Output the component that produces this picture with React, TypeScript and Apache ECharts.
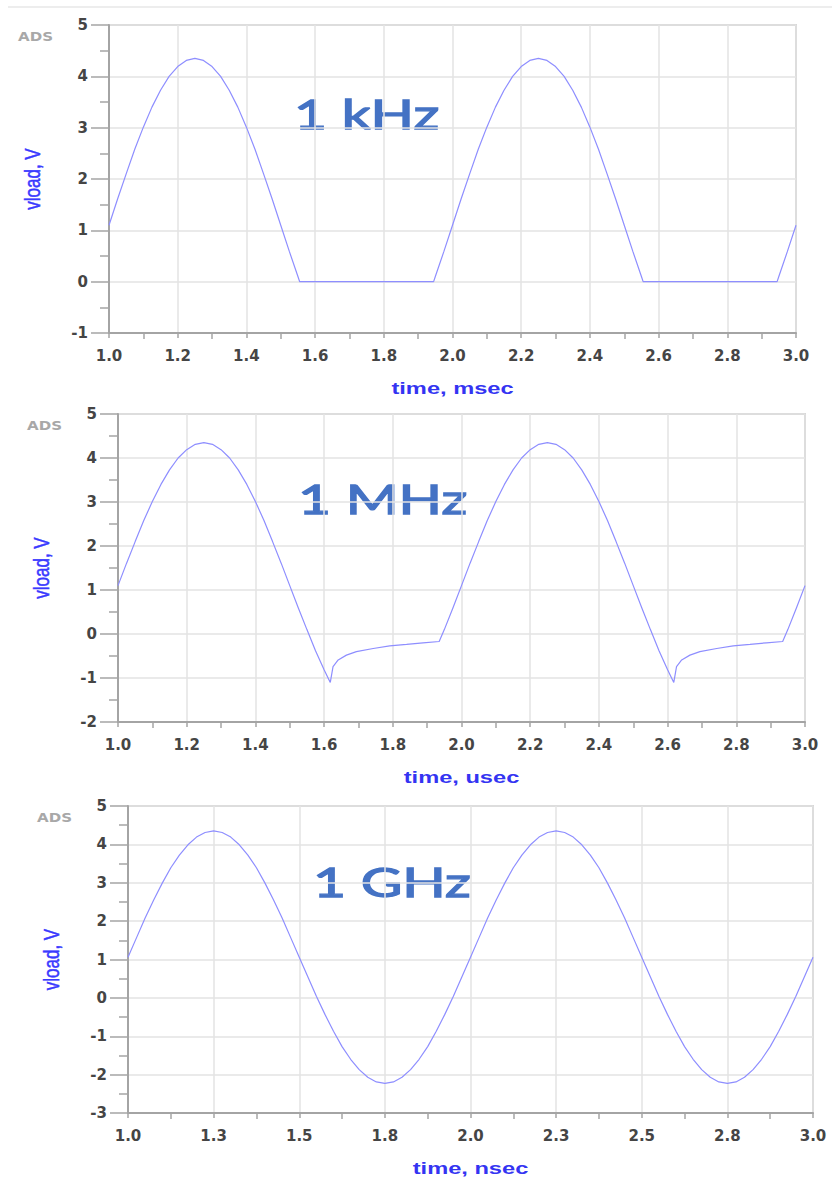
import { useEffect, useRef } from 'react';
import * as echarts from 'echarts';

// ---- data ----
const khzTime = [1.0, 1.025, 1.05, 1.075, 1.1, 1.125, 1.15, 1.175, 1.2, 1.225, 1.25, 1.275, 1.3, 1.325, 1.35, 1.375, 1.4, 1.425, 1.45, 1.475, 1.5, 1.525, 1.55, 1.555, 1.945, 1.95, 1.975, 2.0, 2.025, 2.05, 2.075, 2.1, 2.125, 2.15, 2.175, 2.2, 2.225, 2.25, 2.275, 2.3, 2.325, 2.35, 2.375, 2.4, 2.425, 2.45, 2.475, 2.5, 2.525, 2.55, 2.555, 2.945, 2.95, 2.975, 3.0];
const khzVolt = [1.10, 1.61, 2.10, 2.58, 3.01, 3.40, 3.73, 4.00, 4.19, 4.31, 4.35, 4.31, 4.19, 4.00, 3.73, 3.40, 3.01, 2.58, 2.10, 1.61, 1.10, 0.59, 0.10, 0, 0, 0.10, 0.59, 1.10, 1.61, 2.10, 2.58, 3.01, 3.40, 3.73, 4.00, 4.19, 4.31, 4.35, 4.31, 4.19, 4.00, 3.73, 3.40, 3.01, 2.58, 2.10, 1.61, 1.10, 0.59, 0.10, 0, 0, 0.10, 0.59, 1.10];

const mhzTime = [1.0, 1.025, 1.05, 1.075, 1.1, 1.125, 1.15, 1.175, 1.2, 1.225, 1.25, 1.275, 1.3, 1.325, 1.35, 1.375, 1.4, 1.425, 1.45, 1.475, 1.5, 1.525, 1.55, 1.575, 1.6, 1.618, 1.626, 1.641, 1.665, 1.694, 1.743, 1.791, 1.84, 1.888, 1.935, 1.95, 1.975, 2.0, 2.025, 2.05, 2.075, 2.1, 2.125, 2.15, 2.175, 2.2, 2.225, 2.25, 2.275, 2.3, 2.325, 2.35, 2.375, 2.4, 2.425, 2.45, 2.475, 2.5, 2.525, 2.55, 2.575, 2.6, 2.618, 2.626, 2.641, 2.665, 2.694, 2.743, 2.791, 2.84, 2.888, 2.935, 2.95, 2.975, 3.0];
const mhzVolt = [1.10, 1.61, 2.10, 2.58, 3.01, 3.40, 3.73, 4.00, 4.19, 4.31, 4.35, 4.31, 4.19, 4.00, 3.73, 3.40, 3.01, 2.58, 2.10, 1.61, 1.10, 0.59, 0.10, -0.38, -0.81, -1.10, -0.74, -0.59, -0.48, -0.40, -0.33, -0.27, -0.235, -0.20, -0.17, 0.10, 0.59, 1.10, 1.61, 2.10, 2.58, 3.01, 3.40, 3.73, 4.00, 4.19, 4.31, 4.35, 4.31, 4.19, 4.00, 3.73, 3.40, 3.01, 2.58, 2.10, 1.61, 1.10, 0.59, 0.10, -0.38, -0.81, -1.10, -0.74, -0.59, -0.48, -0.40, -0.33, -0.27, -0.235, -0.20, -0.17, 0.10, 0.59, 1.10];

const ghzTime = [1.0, 1.025, 1.05, 1.075, 1.1, 1.125, 1.15, 1.175, 1.2, 1.225, 1.25, 1.275, 1.3, 1.325, 1.35, 1.375, 1.4, 1.425, 1.45, 1.475, 1.5, 1.525, 1.55, 1.575, 1.6, 1.625, 1.65, 1.675, 1.7, 1.725, 1.75, 1.775, 1.8, 1.825, 1.85, 1.875, 1.9, 1.925, 1.95, 1.975, 2.0, 2.025, 2.05, 2.075, 2.1, 2.125, 2.15, 2.175, 2.2, 2.225, 2.25, 2.275, 2.3, 2.325, 2.35, 2.375, 2.4, 2.425, 2.45, 2.475, 2.5, 2.525, 2.55, 2.575, 2.6, 2.625, 2.65, 2.675, 2.7, 2.725, 2.75, 2.775, 2.8, 2.825, 2.85, 2.875, 2.9, 2.925, 2.95, 2.975, 3.0];
const ghzVolt = [1.06, 1.57, 2.08, 2.55, 2.99, 3.39, 3.72, 3.99, 4.19, 4.31, 4.35, 4.31, 4.19, 3.99, 3.72, 3.39, 2.99, 2.55, 2.08, 1.57, 1.06, 0.55, 0.04, -0.43, -0.87, -1.27, -1.60, -1.87, -2.07, -2.19, -2.23, -2.19, -2.07, -1.87, -1.60, -1.27, -0.87, -0.43, 0.04, 0.55, 1.06, 1.57, 2.08, 2.55, 2.99, 3.39, 3.72, 3.99, 4.19, 4.31, 4.35, 4.31, 4.19, 3.99, 3.72, 3.39, 2.99, 2.55, 2.08, 1.57, 1.06, 0.55, 0.04, -0.43, -0.87, -1.27, -1.60, -1.87, -2.07, -2.19, -2.23, -2.19, -2.07, -1.87, -1.60, -1.27, -0.87, -0.43, 0.04, 0.55, 1.06];

const khzTicks = ['1.0', '1.2', '1.4', '1.6', '1.8', '2.0', '2.2', '2.4', '2.6', '2.8', '3.0'];
const mhzTicks = ['1.0', '1.2', '1.4', '1.6', '1.8', '2.0', '2.2', '2.4', '2.6', '2.8', '3.0'];
const ghzTicks = ['1.0', '1.3', '1.5', '1.8', '2.0', '2.3', '2.5', '2.8', '3.0'];

const panelTitles = ['1 kHz', '1 MHz', '1 GHz'];
const xNames = ['time, msec', 'time, usec', 'time, nsec'];
const yName = 'vload, V';
const yRanges = [[-1, 5], [-2, 5], [-3, 5]];
const xSteps = [0.2, 0.2, 0.25];

// ---- layout (positions / styles) ----
const layout = [
  { left: 109, top: 25, width: 687, height: 308, titleX: 294, titleY: 113.5 },
  { left: 118, top: 414, width: 687, height: 308, titleX: 298, titleY: 498 },
  { left: 128, top: 806, width: 685, height: 307, titleX: 313, titleY: 881 },
];

const panels = [
  { time: khzTime, volt: khzVolt, ticks: khzTicks },
  { time: mhzTime, volt: mhzVolt, ticks: mhzTicks },
  { time: ghzTime, volt: ghzVolt, ticks: ghzTicks },
];

const AXIS_GRAY = '#a4a4a4';
const LABEL_STYLE = { color: '#454545', fontFamily: 'DejaVu Sans', fontWeight: 'bold' as const, fontSize: 15 };

export default function App() {
  const ref = useRef<HTMLDivElement>(null);

  useEffect(() => {
    if (!ref.current) return;
    const chart = echarts.init(ref.current, undefined, { renderer: 'svg' });

    const graphic: any[] = [
      { type: 'line', shape: { x1: 8, y1: 7, x2: 832, y2: 7 }, style: { stroke: '#ededed', lineWidth: 2 } },
    ];
    layout.forEach((l, i) => {
      graphic.push({
        type: 'text', x: l.left - 91, y: l.top + 11, scaleX: 1.16,
        style: { text: 'ADS', fill: '#a8a8a8', fontFamily: 'DejaVu Sans', fontWeight: 'bold', fontSize: 13, align: 'left', verticalAlign: 'middle', textAlign: 'left', textVerticalAlign: 'middle' },
      });
      graphic.push({
        type: 'text', x: l.titleX, y: l.titleY, scaleX: 1.39,
        style: { text: panelTitles[i], fill: '#4472c4', stroke: '#4472c4', lineWidth: 1.3, fontFamily: 'Lato', fontSize: 41, align: 'left', verticalAlign: 'middle', textAlign: 'left', textVerticalAlign: 'middle' },
      });
      graphic.push({
        type: 'text', x: l.left + l.width / 2, y: l.top + l.height + 55, scaleX: 1.39,
        style: { text: xNames[i], fill: '#3434f2', fontFamily: 'Liberation Sans', fontWeight: 'bold', fontSize: 17, align: 'center', verticalAlign: 'middle', textAlign: 'center', textVerticalAlign: 'middle' },
      });
      graphic.push({
        type: 'text', x: l.left - 77, y: l.top + l.height / 2, rotation: Math.PI / 2, scaleY: 1.3,
        style: { text: yName, fill: '#3a3aff', stroke: '#3a3aff', lineWidth: 0.4, fontFamily: 'Liberation Sans', fontSize: 17, align: 'center', verticalAlign: 'middle', textAlign: 'center', textVerticalAlign: 'middle' },
      });
    });

    const option: any = {
      animation: false,
      backgroundColor: '#ffffff',
      grid: layout.map((l) => ({
        left: l.left, top: l.top, width: l.width, height: l.height,
        show: true, borderColor: '#b8b8b8', borderWidth: 1.5, backgroundColor: '#ffffff', containLabel: false,
      })),
      xAxis: panels.map((p, i) => ({
        type: 'value', gridIndex: i, min: 1, max: 3, interval: xSteps[i],
        axisLine: { show: true, onZero: false, lineStyle: { color: AXIS_GRAY, width: 2 } },
        axisTick: { show: true, length: 5, lineStyle: { color: AXIS_GRAY, width: 1.5 } },
        minorTick: { show: true, splitNumber: 2, length: 6, lineStyle: { color: AXIS_GRAY, width: 1.5 } },
        splitLine: { show: true, lineStyle: { color: '#e3e3e3', width: 1.5 } },
        axisLabel: {
          ...LABEL_STYLE, margin: 15,
          formatter: (v: number) => p.ticks[Math.round((v - 1) / xSteps[i])] ?? '',
        },
      })),
      yAxis: panels.map((_p, i) => ({
        type: 'value', gridIndex: i, min: yRanges[i][0], max: yRanges[i][1], interval: 1,
        axisLine: { show: true, onZero: false, lineStyle: { color: AXIS_GRAY, width: 2 } },
        axisTick: { show: true, length: 18, lineStyle: { color: AXIS_GRAY, width: 1.5 } },
        minorTick: { show: true, splitNumber: 2, length: 9, lineStyle: { color: AXIS_GRAY, width: 1.5 } },
        splitLine: { show: true, lineStyle: { color: '#e3e3e3', width: 1.5 } },
        axisLabel: { ...LABEL_STYLE, margin: 21 },
      })),
      series: panels.map((p, i) => ({
        type: 'line', xAxisIndex: i, yAxisIndex: i,
        data: p.time.map((t, k) => [t, p.volt[k]]),
        symbol: 'none', showSymbol: false, smooth: false,
        lineStyle: { color: '#8e8eff', width: 1.2 },
      })),
      graphic,
    };

    chart.setOption(option);
    return () => chart.dispose();
  }, []);

  return <div ref={ref} style={{ position: 'absolute', left: 0, top: 0, width: 832, height: 1180 }} />;
}
